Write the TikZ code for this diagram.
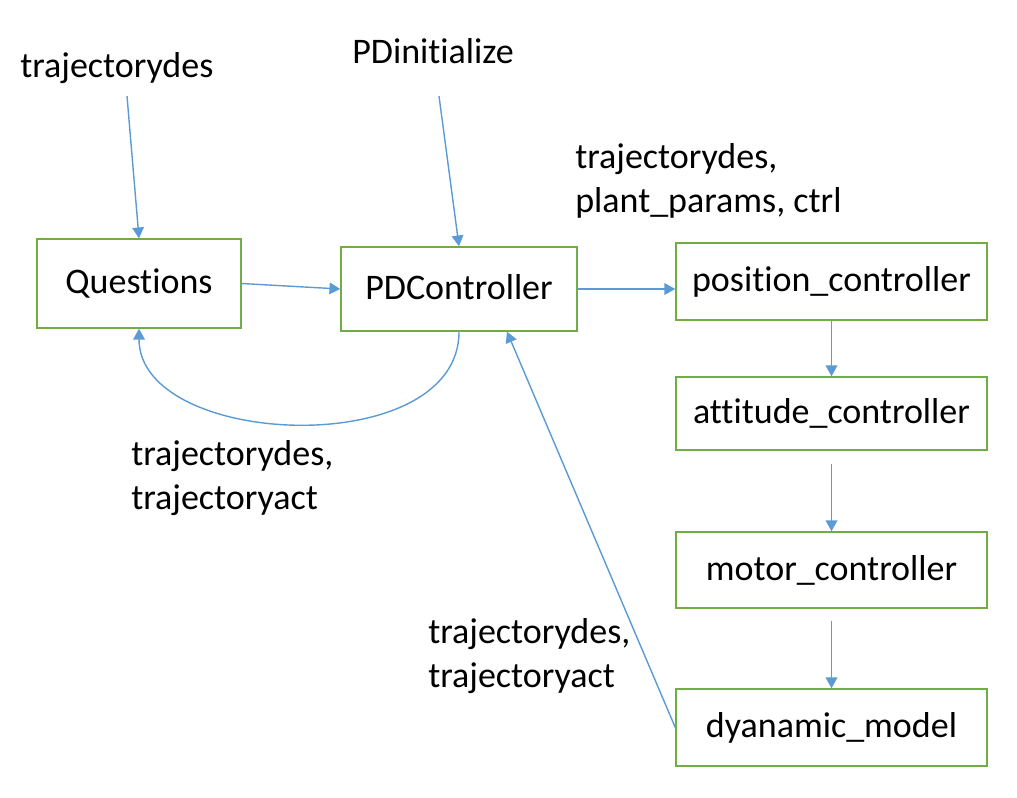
\documentclass[tikz,border=0pt]{standalone}
\usepackage{fontspec}
\setmainfont{Carlito}[Ligatures=NoCommon]
\usetikzlibrary{arrows.meta,calc}
\definecolor{boxgreen}{HTML}{70AD47}
\definecolor{linkblue}{HTML}{5B9BD5}
\begin{document}
\begin{tikzpicture}[x=0.025cm, y=-0.025cm,
    font=\fontsize{25.6}{31.3}\selectfont,
    block/.style={draw=boxgreen, line width=1pt, inner sep=0pt,
      text height=0.65cm, text depth=0.15cm},
    stage/.style={block, minimum width=7.775cm},
    link/.style={draw=linkblue, line width=1pt,
      -{Triangle[length=0.27cm,width=0.29cm]}},
    lbl/.style={anchor=north west, inner sep=0pt, align=left}]
    \useasboundingbox (0,0) rectangle (1017,797);
    % blocks
    \node[block, minimum width=5.1cm, minimum height=2.225cm] (quest) at (139,283.5) {Questions};
    \node[block, minimum width=5.9cm, minimum height=2.1cm] (pdc) at (459,289) {PDController};
    \node[stage, minimum height=1.925cm] (posc) at (831.5,281.5) {position\_controller};
    \node[stage, minimum height=1.825cm] (attc) at (831.5,413.5) {attitude\_controller};
    \node[stage, minimum height=1.9cm] (motc) at (831.5,570) {motor\_controller};
    \node[stage, minimum height=1.925cm] (dynm) at (831.5,727.5) {dyanamic\_model};
    % labels
    \node[anchor=base west, inner sep=0pt] (trajin) at (20,77) {trajectorydes};
    \node[anchor=base west, inner sep=0pt] (pdinit) at (352,63) {PDinitialize};
    \node[lbl] (ctrlin) at (575,143) {trajectorydes,\\plant\_params, ctrl};
    \node[lbl] (backq) at (131,440) {trajectorydes,\\trajectoryact};
    \node[lbl] (backpd) at (428,618) {trajectorydes,\\trajectoryact};
    % arrows
    \coordinate (trajtop) at (127,96);
    \coordinate (inittop) at (439,96);
    \draw[link] (trajtop) -- (quest.north);
    \draw[link] (inittop) -- (pdc.north);
    \draw[link] (quest.east) -- (pdc.west);
    \draw[link] (pdc.east) -- (pdc.east -| posc.west);
    \draw[link] (posc.south) -- (attc.north);
    \draw[link] ([yshift=-0.325cm]attc.south) -- (motc.north);
    \draw[link] ([yshift=-0.3cm]motc.south) -- (dynm.north);
    \draw[link] (dynm.west) -- ($(pdc.south)+(48,0)$);
    \draw[link] (pdc.south) .. controls +(0,130) and +(0,120) .. (quest.south);
\end{tikzpicture}
\end{document}
